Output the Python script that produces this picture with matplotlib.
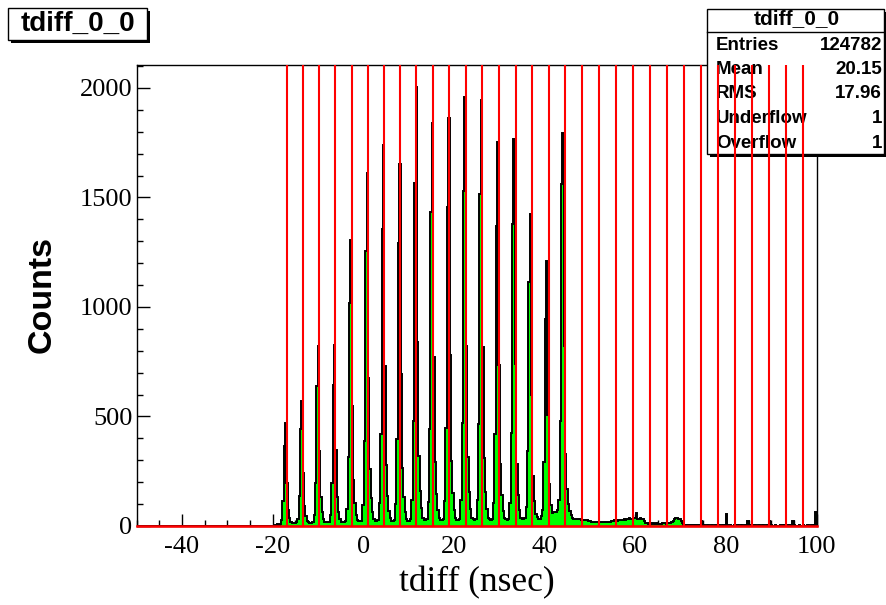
import numpy as np
import matplotlib.pyplot as plt
from matplotlib.patches import Rectangle

plt.rcParams['axes.unicode_minus'] = False

# histogram tdiff_0_0: 500 bins of 0.3 ns between -50 and 100 ns
x_lo, x_hi, n_bins = -50.0, 100.0, 500
first_filled = 102  # bin of -19.4 ns, all bins below are empty

# bin contents, one row per 3.6 ns bunch period, first row starts at -19.4 ns
rows = [
    [3, 8, 5, 10, 28, 113, 367, 470, 197, 75, 38, 19],
    [15, 14, 13, 16, 34, 137, 445, 570, 240, 91, 46, 23],
    [16, 15, 15, 18, 49, 197, 640, 820, 344, 131, 66, 33],
    [20, 18, 17, 20, 50, 198, 644, 825, 347, 132, 66, 33],
    [20, 18, 18, 22, 78, 313, 1018, 1305, 548, 209, 104, 52],
    [28, 22, 21, 25, 97, 386, 1256, 1610, 676, 258, 129, 64],
    [32, 24, 23, 27, 104, 418, 1357, 1740, 731, 278, 139, 70],
    [35, 25, 24, 28, 99, 397, 1291, 1655, 695, 265, 132, 66],
    [33, 25, 24, 30, 120, 481, 1564, 2005, 842, 321, 160, 80],
    [38, 28, 26, 30, 110, 442, 1435, 1840, 773, 294, 147, 74],
    [36, 28, 26, 30, 112, 448, 1455, 1865, 783, 298, 149, 75],
    [36, 28, 27, 32, 118, 470, 1529, 1960, 823, 314, 157, 78],
    [38, 30, 28, 32, 117, 467, 1517, 1945, 817, 311, 156, 78],
    [38, 30, 28, 33, 105, 421, 1369, 1755, 737, 281, 140, 70],
    [36, 30, 29, 34, 106, 424, 1377, 1765, 741, 282, 141, 71],
    [38, 32, 30, 36, 86, 342, 1112, 1425, 599, 228, 114, 57],
    [40, 30, 32, 45, 73, 290, 944, 1210, 508, 194, 97, 60],
    [65, 62, 64, 75, 120, 480, 1560, 1795, 820, 330, 170, 100],
    [70, 48, 38, 34, 33, 34, 31, 30, 32, 29, 27, 28],
    [27, 26, 24, 22, 20, 19, 18, 19, 17, 18, 19, 18],
    [18, 17, 19, 18, 17, 20, 19, 22, 25, 26, 27, 25],
    [27, 26, 28, 27, 30, 29, 33, 34, 36, 34, 33, 35],
    [36, 60, 34, 33, 35, 32, 30, 22, 15, 12, 11, 12],
    [11, 12, 10, 11, 12, 10, 9, 11, 12, 14, 12, 11],
    [13, 12, 15, 18, 25, 32, 36, 35, 33, 30, 24, 12],
    [6, 5, 4, 4, 3, 4, 3, 4, 3, 3, 4, 3],
    [3, 22, 3, 3, 2, 3, 3, 2, 3, 3, 2, 3],
    [3, 2, 3, 2, 3, 3, 3, 55, 3, 2, 3, 2],
    [2, 3, 2, 3, 2, 3, 2, 3, 2, 3, 2, 22],
    [2, 3, 2, 2, 3, 2, 2, 3, 2, 2, 3, 2],
    [2, 3, 2, 22, 3, 2, 2, 3, 2, 2, 2, 3],
    [3, 2, 3, 2, 2, 3, 2, 2, 22, 3, 2, 2],
    [2, 3, 2, 2, 3, 2, 2, 3, 2, 2, 3, 2],
]
last_bins = [3, 65]

# red markers (ns)
bunch_marks = [-16.91, -13.38, -9.78, -6.19, -2.57, 1.03, 4.56, 8.09, 11.68,
               15.30, 18.96, 22.58, 26.24, 29.86, 33.61, 37.27, 40.85, 44.53,
               48.28, 51.99, 55.74, 59.42, 63.24, 66.92, 70.74, 74.42, 78.13,
               81.94, 85.74, 89.49, 93.24, 97.06]

stat_names = ['Entries', 'Mean', 'RMS', 'Underflow', 'Overflow']
stat_values = ['124782', '20.15', '17.96', '1', '1']
hist_name = 'tdiff_0_0'

xticks = [-40, -20, 0, 20, 40, 60, 80, 100]
yticks = [0, 500, 1000, 1500, 2000]
y_max = 2105

counts = np.concatenate([np.zeros(first_filled), np.ravel(rows), last_bins])
edges = np.linspace(x_lo, x_hi, n_bins + 1)

W, H = 886, 605
fig = plt.figure(figsize=(W / 100, H / 100), dpi=100)


def fx(px):
    return px / W


def fy(py):
    return 1 - py / H


ax = fig.add_axes([fx(136.7), fy(526), fx(816.7) - fx(136.7), fy(65) - fy(526)])

ax.stairs(counts, edges, fill=True, color='#00ff00', zorder=2)
ax.stairs(counts, edges, color='black', lw=1.4, zorder=2.2)

ax.set_xlim(x_lo, x_hi)
ax.set_ylim(0, y_max)

# stats box (drawn under the red lines, like in ROOT)
sh = 3
ax.add_patch(Rectangle((fx(707 + sh), fy(154 + sh)), fx(884) - fx(707), fy(9) - fy(154),
                       transform=fig.transFigure, facecolor='black', edgecolor='none',
                       clip_on=False, zorder=3))
ax.add_patch(Rectangle((fx(707), fy(154)), fx(884) - fx(707), fy(9) - fy(154),
                       transform=fig.transFigure, facecolor='white', edgecolor='black',
                       lw=1, clip_on=False, zorder=3.1))
ax.plot([fx(707), fx(884)], [fy(31.7), fy(31.7)], color='black', lw=1,
        transform=fig.transFigure, clip_on=False, zorder=3.2)
ax.text(fx(797), fy(19), hist_name, transform=fig.transFigure, ha='center', va='center',
        fontsize=15, fontweight='bold', family='Liberation Sans', zorder=3.3)
for i, (name, val) in enumerate(zip(stat_names, stat_values)):
    yy = fy(45 + 24.5 * i)
    ax.text(fx(716), yy, name, transform=fig.transFigure, ha='left', va='center',
            fontsize=13.5, fontweight='bold', family='Liberation Sans', zorder=3.3)
    ax.text(fx(882), yy, val, transform=fig.transFigure, ha='right', va='center',
            fontsize=13.5, fontweight='bold', family='Liberation Sans', zorder=3.3)

ax.vlines(bunch_marks, 0, y_max, colors='#ff0000', lw=1.5, zorder=4)
ax.axhline(0, color='#ff0000', lw=1.8, zorder=4, clip_on=False)

ax.set_xticks(xticks)
ax.set_xticks(np.arange(-50, 101, 5), minor=True)
ax.set_yticks(yticks)
ax.set_yticks(np.arange(0, 2101, 100), minor=True)
ax.tick_params(which='both', direction='in', top=False, right=False, width=1)
ax.tick_params(which='major', length=9)
ax.tick_params(which='minor', length=4.5)
ax.tick_params(axis='x', pad=7)
ax.tick_params(axis='y', pad=3)
for lab in ax.get_xticklabels() + ax.get_yticklabels():
    lab.set_family('Liberation Serif')
    lab.set_fontsize(19)
for sp in ax.spines.values():
    sp.set_linewidth(1)

fig.text(fx(476.7), fy(583), 'tdiff (nsec)', ha='center', va='center',
         fontsize=25.5, family='Liberation Serif')
fig.text(fx(42), fy(295), 'Counts', ha='center', va='center', rotation=90,
         fontsize=24.5, fontweight='bold', family='Liberation Sans')

# title box in the top-left corner
fig.patches.append(Rectangle((fx(8 + sh), fy(40 + sh)), fx(147) - fx(8), fy(8) - fy(40),
                             transform=fig.transFigure, facecolor='black', edgecolor='none'))
fig.patches.append(Rectangle((fx(8), fy(40)), fx(147) - fx(8), fy(8) - fy(40),
                             transform=fig.transFigure, facecolor='white', edgecolor='black', lw=1))
fig.text(fx(77.5), fy(24), hist_name, ha='center', va='center',
         fontsize=20, fontweight='bold', family='Liberation Sans')

fig.savefig('out.png', dpi=100)
